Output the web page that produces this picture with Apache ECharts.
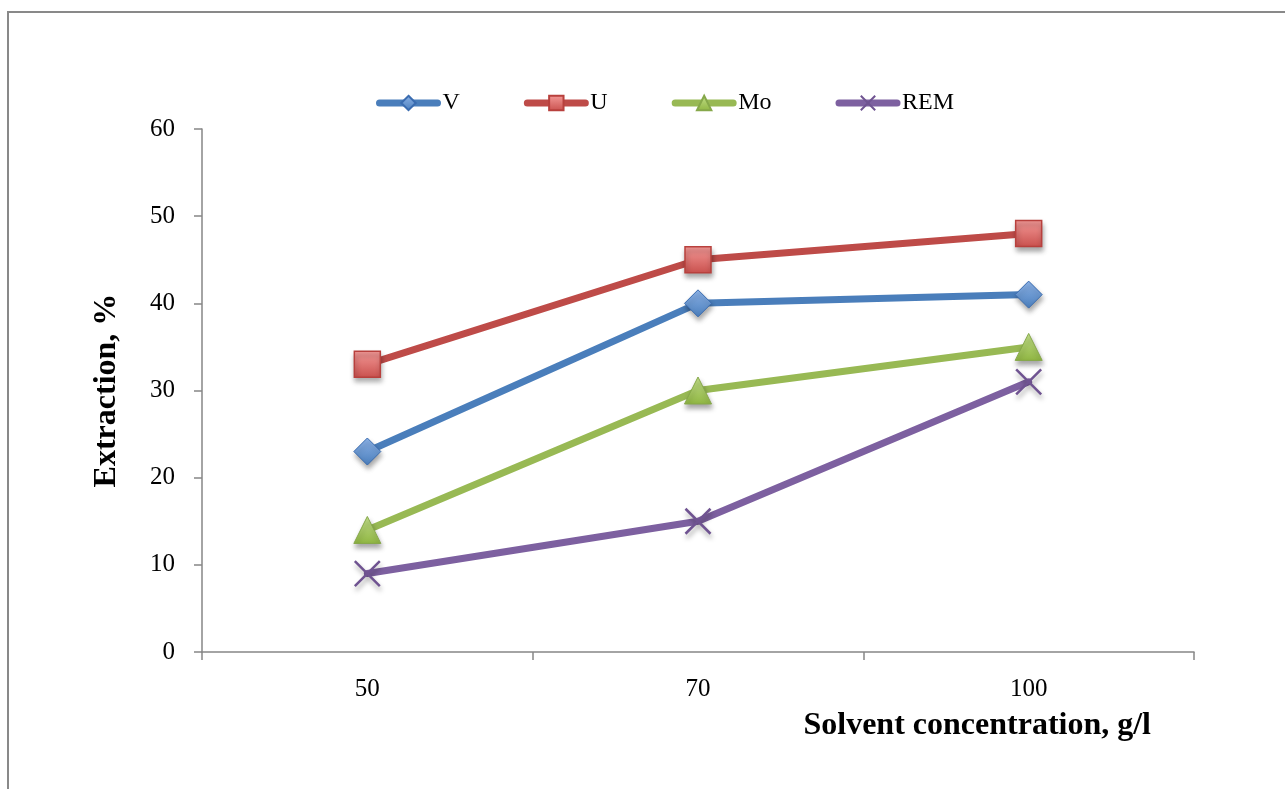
<!DOCTYPE html>
<html>
<head>
<meta charset="utf-8">
<script src="https://cdn.jsdelivr.net/npm/echarts@6/dist/echarts.min.js"></script>
<style>
  html, body { margin: 0; padding: 0; background: #fff; }
  #chart { width: 1285px; height: 789px; }
</style>
</head>
<body>
<div id="chart"></div>
<script>
// Solvent concentration (g/l) on the category axis
const concentrations = ['50', '70', '100'];
// Extraction, % for each element
const vValues = [23, 40, 41];
const uValues = [33, 45, 48];
const moValues = [14, 30, 35];
const remValues = [9, 15, 31];

const serif = '"Liberation Serif", "DejaVu Serif", serif';
const axisGray = '#868686';

function grad(top, bottom) {
  return new echarts.graphic.LinearGradient(0, 0, 0, 1, [
    { offset: 0, color: top },
    { offset: 1, color: bottom }
  ]);
}

const markerShadow = {
  shadowBlur: 5,
  shadowOffsetX: 1,
  shadowOffsetY: 4,
  shadowColor: 'rgba(0,0,0,0.35)'
};

function lineSeries(name, data, color, symbol, size, itemStyle) {
  return {
    name: name,
    type: 'line',
    data: data,
    symbol: symbol,
    symbolSize: size,
    showAllSymbol: true,
    lineStyle: { color: color, width: 7, cap: 'round' },
    itemStyle: Object.assign({ color: color }, itemStyle),
    emphasis: { disabled: true },
    z: 2
  };
}

const chart = echarts.init(document.getElementById('chart'), null, { renderer: 'canvas' });

chart.setOption({
  animation: false,
  backgroundColor: '#fff',
  grid: { left: 202, right: 91, top: 129, bottom: 137, containLabel: false },
  legend: {
    top: 86,
    left: 371,
    itemGap: 64,
    itemWidth: 58,
    itemHeight: 18,
    lineStyle: { width: 7, cap: 'round' },
    textStyle: { fontFamily: serif, fontSize: 24, color: '#000' },
    data: ['V', 'U', 'Mo', 'REM']
  },
  xAxis: {
    type: 'category',
    data: concentrations,
    boundaryGap: true,
    axisLine: { lineStyle: { color: axisGray, width: 1.5 } },
    axisTick: { show: true, length: 8, inside: false, lineStyle: { color: axisGray, width: 1.5 } },
    axisLabel: { margin: 25, fontFamily: serif, fontSize: 25, color: '#000' },
    splitLine: { show: false }
  },
  yAxis: {
    type: 'value',
    min: 0,
    max: 60,
    interval: 10,
    name: 'Extraction, %',
    nameLocation: 'middle',
    nameGap: 79,
    nameTextStyle: { fontFamily: serif, fontSize: 32, fontWeight: 'bold', color: '#000' },
    axisLine: { show: true, lineStyle: { color: axisGray, width: 1.5 } },
    axisTick: { show: true, length: 8, lineStyle: { color: axisGray, width: 1.5 } },
    axisLabel: { margin: 27, fontFamily: serif, fontSize: 25, color: '#000' },
    splitLine: { show: false }
  },
  graphic: [
    {
      type: 'rect',
      shape: { x: 8, y: 12, width: 1300, height: 800 },
      style: { fill: 'none', stroke: '#898989', lineWidth: 2 },
      silent: true
    },
    {
      type: 'text',
      right: 134,
      top: 710,
      style: {
        text: 'Solvent concentration, g/l',
        font: 'bold 32px ' + serif,
        fill: '#000'
      }
    }
  ],
  series: [
    lineSeries('V', vValues, '#4a7ebb', 'diamond', 27,
      Object.assign({ color: grad('#8db3e8', '#4a7ebb'), borderColor: '#3a6cb0', borderWidth: 1 }, markerShadow)),
    lineSeries('U', uValues, '#be4b48', 'rect', 26,
      Object.assign({ color: grad('#f49a98', '#c9504d'), borderColor: '#b8403d', borderWidth: 1.5 }, markerShadow)),
    lineSeries('Mo', moValues, '#98b954', 'triangle', 27,
      Object.assign({ color: grad('#c3e08a', '#8fb542'), borderColor: '#86a84a', borderWidth: 1 }, markerShadow)),
    lineSeries('REM', remValues, '#7d60a0', 'path://M0,0L10,10M10,0L0,10', 25,
      Object.assign({ color: 'none', borderColor: '#6f5391', borderWidth: 2.5 }, markerShadow))
  ]
});
</script>
</body>
</html>
